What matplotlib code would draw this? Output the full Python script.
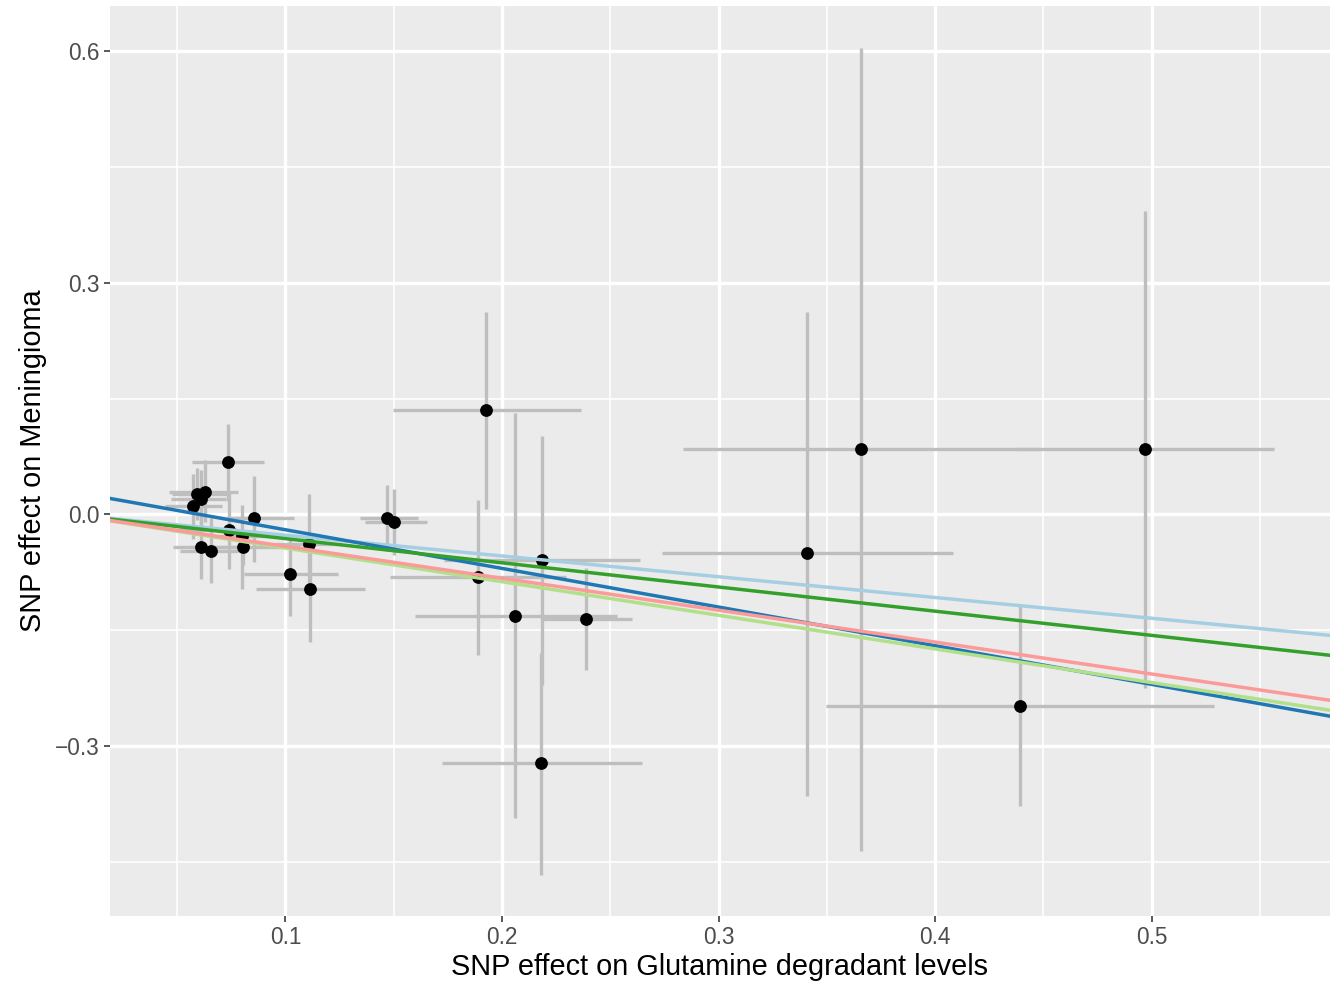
import numpy as np
import matplotlib
matplotlib.use("Agg")
import matplotlib.pyplot as plt
from matplotlib.ticker import MultipleLocator

plt.rcParams['font.family'] = ['Liberation Sans', 'DejaVu Sans']

# SNP effects (exposure = Glutamine degradant levels, outcome = Meningioma)
beta_exp = [0.0733, 0.0590, 0.0629, 0.0612, 0.0572, 0.0854, 0.0737, 0.0800, 0.0803,
            0.0611, 0.0654, 0.1108, 0.1022, 0.1111, 0.1467, 0.1503, 0.1927, 0.1888,
            0.2061, 0.2184, 0.2181, 0.2386, 0.3409, 0.3658, 0.4970, 0.4393]
beta_out = [0.0676, 0.0268, 0.0289, 0.0203, 0.0103, -0.0048, -0.0207, -0.0284, -0.0423,
            -0.0423, -0.0474, -0.0388, -0.0767, -0.0961, -0.0048, -0.0102, 0.1351, -0.0810,
            -0.1311, -0.0594, -0.3219, -0.1354, -0.0504, 0.0841, 0.0841, -0.2483]
exp_lo = [0.0567, 0.0476, 0.0462, 0.0471, 0.0443, 0.0730, 0.0476, 0.0689, 0.0559,
          0.0479, 0.0513, 0.0950, 0.0810, 0.0865, 0.1344, 0.1367, 0.1496, 0.1485,
          0.1596, 0.1731, 0.1722, 0.2181, 0.2739, 0.2836, 0.4379, 0.3497]
exp_hi = [0.0903, 0.0734, 0.0781, 0.0725, 0.0707, 0.1039, 0.0776, 0.0919, 0.1067,
          0.0790, 0.0781, 0.1260, 0.1242, 0.1365, 0.1612, 0.1653, 0.2363, 0.2297,
          0.2532, 0.2637, 0.2646, 0.2601, 0.4083, 0.4485, 0.5566, 0.5289]
out_lo = [0.018, -0.007, -0.010, -0.017, -0.032, -0.062, -0.070, -0.097, -0.066,
          -0.083, -0.089, -0.103, -0.132, -0.165, -0.047, -0.053, 0.0066, -0.182,
          -0.3926, -0.2205, -0.467, -0.2014, -0.3647, -0.436, -0.225, -0.3776]
out_hi = [0.117, 0.060, 0.070, 0.057, 0.053, 0.050, 0.030, 0.0116, -0.021,
          -0.001, -0.005, 0.026, -0.0336, -0.036, 0.0376, 0.033, 0.262, 0.0185,
          0.1309, 0.102, -0.180, -0.0698, 0.2625, 0.604, 0.393, -0.119]

# MR method estimates (slope, intercept)
methods = ['Inverse variance weighted', 'MR Egger', 'Simple mode',
           'Weighted median', 'Weighted mode']
slopes = [-0.2688, -0.5003, -0.4353, -0.3131, -0.4131]
intercepts = [0.0, 0.0302, 0.0, 0.0, 0.0]
colours = ['#a6cee3', '#1f78b4', '#b2df8a', '#33a02c', '#fb9a99']

fig = plt.figure(figsize=(13.33, 9.89), dpi=100)
ax = fig.add_axes([0.0825, 0.0741, 0.9149, 0.9198])
ax.set_facecolor('#EBEBEB')
for s in ax.spines.values():
    s.set_visible(False)

ax.set_xlim(0.01894, 0.5822)
ax.set_ylim(-0.5195, 0.6582)
ax.xaxis.set_major_locator(MultipleLocator(0.1))
ax.xaxis.set_minor_locator(MultipleLocator(0.05))
ax.yaxis.set_major_locator(MultipleLocator(0.3))
ax.yaxis.set_minor_locator(MultipleLocator(0.15))
ax.grid(which='major', color='white', linewidth=2.4)
ax.grid(which='minor', color='white', linewidth=1.2)
ax.set_axisbelow(True)
ax.tick_params(which='major', length=4.4, width=1.15, color='#333333',
               labelsize=16.3, labelcolor='#4D4D4D', pad=3.0)
ax.tick_params(which='minor', length=0)

x = np.array(beta_exp)
y = np.array(beta_out)
ax.vlines(x, out_lo, out_hi, color='#BEBEBE', linewidth=2.4, zorder=2)
ax.hlines(y, exp_lo, exp_hi, color='#BEBEBE', linewidth=2.4, zorder=2)
ax.scatter(x, y, s=85, color='black', zorder=3, linewidths=0)

for m, b, c in zip(slopes, intercepts, colours):
    ax.axline((0, b), slope=m, color=c, linewidth=2.5, zorder=4)

ax.set_xlabel('SNP effect on Glutamine degradant levels', fontsize=20.8, labelpad=3)
ax.set_ylabel('SNP effect on Meningioma', fontsize=20.8, labelpad=6)

fig.savefig('out.png', dpi=100)
